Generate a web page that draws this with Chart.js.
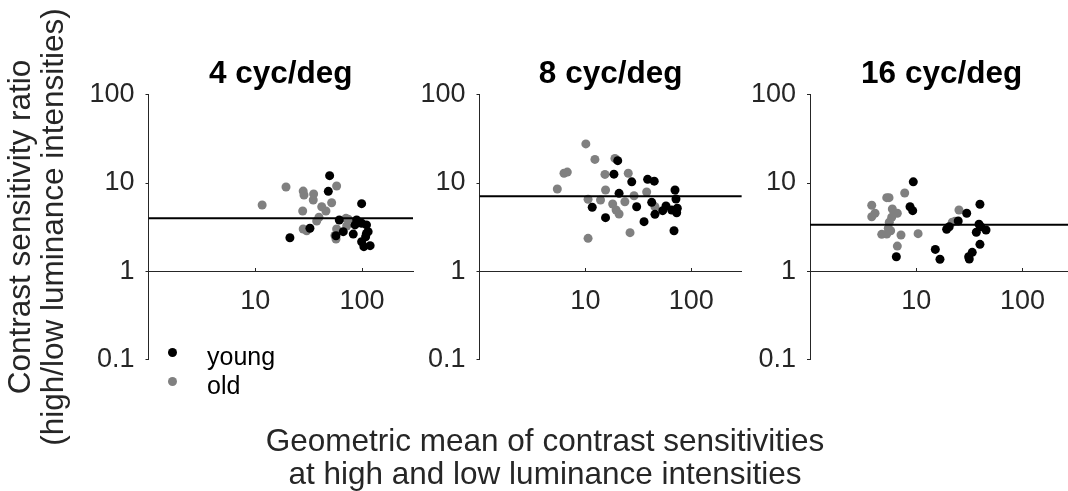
<!DOCTYPE html>
<html><head><meta charset="utf-8">
<script src="https://cdn.jsdelivr.net/npm/chart.js@4.4.1/dist/chart.umd.min.js"></script>
<style>
html,body{margin:0;padding:0;width:1068px;height:491px;overflow:hidden;background:#fff;position:relative;font-family:'Liberation Sans',Arial,Helvetica,sans-serif;color:#262626}
canvas{position:absolute;top:0}
.txt{position:absolute;white-space:nowrap}
.dot{position:absolute;width:9px;height:9px;border-radius:50%}
</style></head><body>
<canvas id="c0" width="420" height="491" style="left:0px"></canvas>
<canvas id="c1" width="350" height="491" style="left:400px"></canvas>
<canvas id="c2" width="340" height="491" style="left:740px"></canvas>

<div class="txt" style="left:-244px;top:194px;width:560px;height:66px;line-height:33px;font-size:31.5px;text-align:center;transform:rotate(-90deg);transform-origin:50% 50%;">Contrast sensitivity ratio<br>(high/low luminance intensities)</div>
<div class="txt" style="left:225px;top:423.5px;width:640px;line-height:33px;font-size:31.5px;text-align:center;">Geometric mean of contrast sensitivities<br>at high and low luminance intensities</div>

<div class="dot" style="left:167.5px;top:347.5px;background:#000"></div>
<div class="txt" style="left:207px;top:341px;line-height:30px;font-size:25px;color:#000">young</div>
<div class="dot" style="left:167.5px;top:376.5px;background:#808080"></div>
<div class="txt" style="left:207px;top:370px;line-height:30px;font-size:25px;color:#000">old</div>

<script>
// ---- data ----
const panelTitles = ['4 cyc/deg', '8 cyc/deg', '16 cyc/deg'];
const yTickValues = [0.1, 1, 10, 100];
const yTickLabels = ['0.1', '1', '10', '100'];
const xTickValues = [10, 100];
const xTickLabels = ['10', '100'];
const refLevels = [4.0, 7.1, 3.37];

const young4X = [21.1, 49.7, 48.3, 99.1, 32.5, 57.0, 61.2, 66.7, 82.7, 85.8, 99.1, 110, 110, 108, 99.1, 104, 119, 89, 114];
const young4Y = [2.40, 12.1, 8.05, 5.83, 3.07, 2.53, 3.81, 2.81, 2.64, 3.35, 3.50, 3.35, 2.69, 2.46, 2.16, 1.90, 1.95, 3.81, 2.81];
const old4X = [11.6, 19.4, 28.1, 28.6, 35.2, 34.9, 27.8, 28.1, 30.3, 37.6, 39.5, 41.9, 45.9, 57.8, 51.9, 57.8, 57.0, 70.7, 74.3, 71.8, 55.7];
const old4Y = [5.63, 9.0, 8.1, 7.31, 7.5, 6.42, 4.82, 3.01, 2.88, 3.71, 4.09, 5.39, 4.82, 9.25, 5.98, 3.01, 2.32, 3.98, 3.88, 3.26, 2.54];

const young8X = [20.2, 18.6, 27.4, 38.7, 44.7, 20.8, 70.2, 71.7, 11.6, 30.5, 42.3, 45.4, 15.5, 35.8, 53.7, 57.7, 65.3, 73.8, 72.8, 68.7];
const young8Y = [17.9, 12.6, 10.3, 11.0, 10.5, 7.64, 8.33, 6.59, 5.31, 5.39, 6.04, 4.42, 4.05, 3.65, 4.86, 5.49, 4.95, 5.17, 4.61, 2.88];
const old8X = [10.1, 12.3, 19.0, 6.28, 6.75, 15.3, 25.4, 5.43, 15.5, 10.6, 13.9, 28.8, 37.9, 18.1, 19.5, 20.8, 23.6, 45.4, 10.6, 26.4];
const old8Y = [27.7, 18.5, 19.0, 12.9, 13.3, 12.5, 12.9, 8.55, 8.33, 6.54, 6.42, 7.18, 7.91, 5.78, 4.95, 4.46, 6.14, 5.39, 2.36, 2.74];

const young16X = [9.37, 8.73, 9.25, 6.49, 15.1, 16.7, 19.3, 20.4, 24.8, 29.8, 39.7, 38.9, 40.4, 36.7, 45.3, 39.7, 33.6, 31.1, 31.5];
const young16Y = [10.3, 5.39, 4.86, 1.46, 1.77, 1.37, 2.99, 3.20, 3.71, 4.54, 5.74, 3.41, 3.20, 2.77, 2.94, 2.02, 1.64, 1.46, 1.38];
const old16X = [3.81, 4.09, 3.81, 5.27, 5.54, 7.78, 5.95, 6.63, 5.87, 5.57, 5.45, 5.74, 4.73, 5.27, 7.18, 10.4, 6.63, 25.2, 21.8, 23.1];
const old16Y = [5.59, 4.54, 4.15, 6.82, 6.82, 7.70, 5.08, 4.54, 4.09, 3.59, 3.07, 2.88, 2.62, 2.64, 2.58, 2.67, 1.93, 4.95, 3.59, 3.68];

const xMin = 1, xMax = 300, yMin = 0.1, yMax = 100;

// ---- rendering ----
const FONT = "'Liberation Sans', Arial, Helvetica, sans-serif";
Chart.defaults.font.family = FONT;
Chart.defaults.color = '#262626';

const toPts = (xs, ys) => xs.map((x, i) => ({x: x, y: ys[i]}));

const panels = [
  {id: 'c0', young: toPts(young4X, young4Y), old: toPts(old4X, old4Y), padL: 88.5, padR: 7},
  {id: 'c1', young: toPts(young8X, young8Y), old: toPts(old8X, old8Y), padL: 19.5, padR: 8.2},
  {id: 'c2', young: toPts(young16X, young16Y), old: toPts(old16X, old16Y), padL: 10, padR: 6.7}
];

panels.forEach((p, k) => {
  new Chart(document.getElementById(p.id), {
    type: 'scatter',
    data: {
      datasets: [
        {type: 'line', label: 'ref', data: [{x: xMin, y: refLevels[k]}, {x: xMax, y: refLevels[k]}],
         borderColor: '#000', borderWidth: 2, pointRadius: 0, fill: false, order: 0},
        {label: 'young', data: p.young, backgroundColor: '#000', borderWidth: 0, pointRadius: 4.5, order: 1},
        {label: 'old', data: p.old, backgroundColor: '#808080', borderWidth: 0, pointRadius: 4.5, order: 2}
      ]
    },
    options: {
      responsive: false, animation: false,
      layout: {padding: {left: p.padL, right: p.padR, top: 0, bottom: 131.4}},
      plugins: {
        legend: {display: false}, tooltip: {enabled: false},
        title: {display: true, text: panelTitles[k], fullSize: false, color: '#000',
                font: {size: 31.5, weight: 'bold', family: FONT, lineHeight: 1.2},
                padding: {top: 55.6, bottom: 1.3}}
      },
      scales: {
        x: {
          type: 'logarithmic', min: xMin, max: xMax, position: {y: 1},
          afterBuildTicks: s => { s.ticks = xTickValues.map(v => ({value: v})); },
          ticks: {autoSkip: false, maxRotation: 0, padding: 18.5, font: {size: 27}, color: '#262626',
                  callback: v => xTickLabels[xTickValues.indexOf(v)]},
          grid: {display: true, drawOnChartArea: false, drawTicks: true, tickLength: -4, color: '#262626', lineWidth: 1},
          border: {display: true, color: '#262626', width: 1}
        },
        y: {
          type: 'logarithmic', min: yMin, max: yMax, position: 'left',
          afterBuildTicks: s => { s.ticks = yTickValues.map(v => ({value: v})); },
          afterFit: s => { s.width = 60; },
          ticks: {autoSkip: false, padding: 11, font: {size: 27}, color: '#262626',
                  callback: v => yTickLabels[yTickValues.indexOf(v)]},
          grid: {display: true, drawOnChartArea: false, drawTicks: true, tickLength: 3, color: '#262626', lineWidth: 1},
          border: {display: true, color: '#262626', width: 1}
        }
      }
    }
  });
});
</script>
</body></html>
